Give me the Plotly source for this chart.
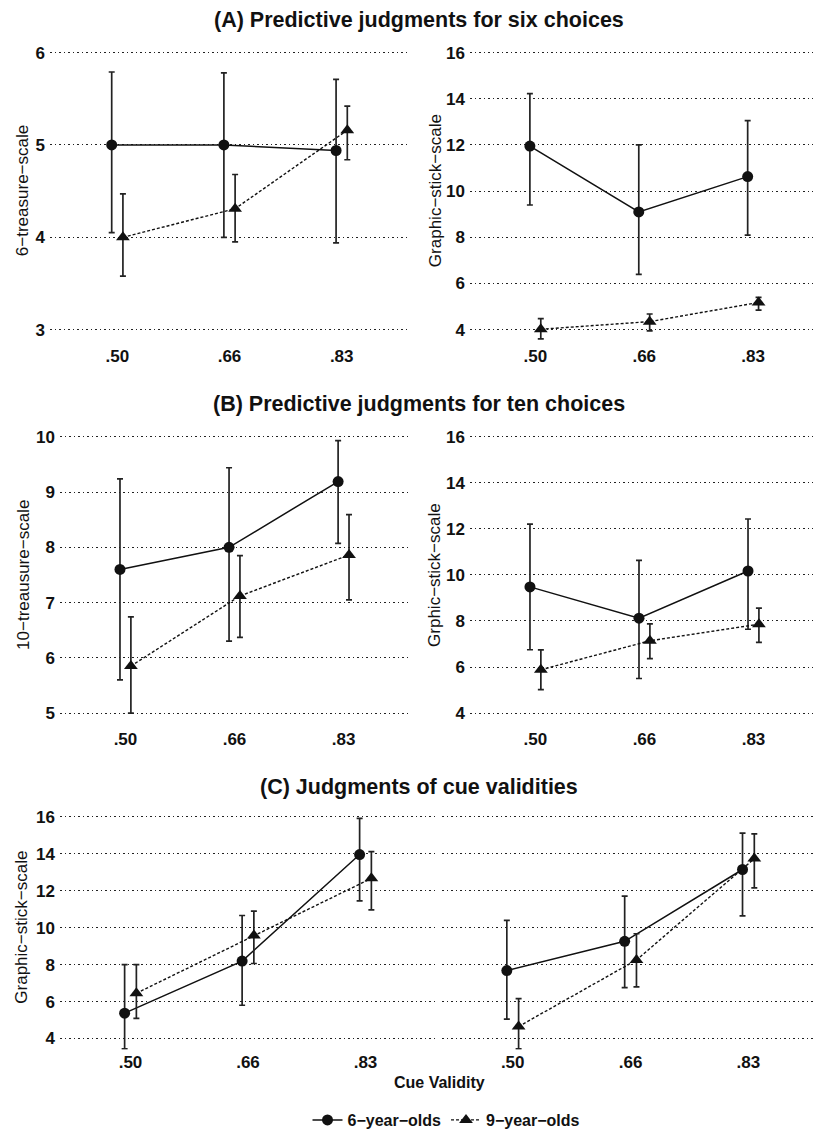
import plotly.graph_objects as go

W, H = 813, 1137
cats = [".50", ".66", ".83"]
xpos = [1, 2, 3]

# (A) six choices, 6-treasure-scale
a_tre_6_mean = [5.0, 5.0, 4.94]
a_tre_6_lo = [4.05, 4.0, 3.94]
a_tre_6_hi = [5.79, 5.78, 5.71]
a_tre_9_mean = [4.0, 4.31, 5.16]
a_tre_9_lo = [3.58, 3.95, 4.84]
a_tre_9_hi = [4.47, 4.68, 5.42]
# (A) six choices, graphic-stick-scale
a_stk_6_mean = [11.95, 9.1, 10.63]
a_stk_6_lo = [9.4, 6.4, 8.1]
a_stk_6_hi = [14.22, 12.0, 13.05]
a_stk_9_mean = [4.02, 4.35, 5.18]
a_stk_9_lo = [3.6, 3.95, 4.85]
a_stk_9_hi = [4.48, 4.68, 5.4]
# (B) ten choices, 10-treasure-scale
b_tre_6_mean = [7.6, 8.0, 9.19]
b_tre_6_lo = [5.6, 6.3, 8.07]
b_tre_6_hi = [9.24, 9.44, 9.93]
b_tre_9_mean = [5.85, 7.12, 7.86]
b_tre_9_lo = [5.0, 6.37, 7.05]
b_tre_9_hi = [6.74, 7.85, 8.59]
# (B) ten choices, graphic-stick-scale
b_stk_6_mean = [9.48, 8.12, 10.17]
b_stk_6_lo = [6.75, 5.5, 7.64]
b_stk_6_hi = [12.21, 10.63, 12.43]
b_stk_9_mean = [5.88, 7.14, 7.86]
b_stk_9_lo = [5.02, 6.36, 7.07]
b_stk_9_hi = [6.74, 7.87, 8.56]
# (C) cue validities
c_l_6_mean = [5.37, 8.19, 13.96]
c_l_6_lo = [3.44, 5.8, 11.45]
c_l_6_hi = [8.0, 10.66, 15.92]
c_l_9_mean = [6.45, 9.58, 12.67]
c_l_9_lo = [5.09, 8.06, 10.96]
c_l_9_hi = [8.0, 10.9, 14.12]
c_r_6_mean = [7.68, 9.26, 13.15]
c_r_6_lo = [5.05, 6.75, 10.64]
c_r_6_hi = [10.39, 11.71, 15.12]
c_r_9_mean = [4.65, 8.25, 13.74]
c_r_9_lo = [3.44, 6.79, 12.16]
c_r_9_hi = [6.16, 9.67, 15.08]

titles = ["(A) Predictive judgments for six choices",
          "(B) Predictive judgments for ten choices",
          "(C) Judgments of cue validities"]
series_names = ["6\u2212year\u2212olds", "9\u2212year\u2212olds"]

FONT = "Liberation Sans, Arial, Helvetica, sans-serif"

def fx(p):
    return p / W

def fy(p):
    return 1 - p / H

panels = [
    (50, 409, 39, 346, [0.4, 3.6], [2.85, 6.15], [3, 4, 5, 6], "6\u2212treasure\u2212scale",
     (a_tre_6_mean, a_tre_6_lo, a_tre_6_hi, a_tre_9_mean, a_tre_9_lo, a_tre_9_hi), 22),
    (470, 813, 39, 346, [0.4, 3.55], [3.4, 16.6], [4, 6, 8, 10, 12, 14, 16], "Graphic\u2212stick\u2212scale",
     (a_stk_6_mean, a_stk_6_lo, a_stk_6_hi, a_stk_9_mean, a_stk_9_lo, a_stk_9_hi), 435),
    (60, 409, 426, 732, [0.4, 3.6], [4.75, 10.25], [5, 6, 7, 8, 9, 10], "10\u2212treausure\u2212scale",
     (b_tre_6_mean, b_tre_6_lo, b_tre_6_hi, b_tre_9_mean, b_tre_9_lo, b_tre_9_hi), 24),
    (470, 813, 426, 732, [0.4, 3.546], [3.4, 16.6], [4, 6, 8, 10, 12, 14, 16], "Grphic\u2212stick\u2212scale",
     (b_stk_6_mean, b_stk_6_lo, b_stk_6_hi, b_stk_9_mean, b_stk_9_lo, b_stk_9_hi), 435),
    (60, 436, 811.5, 1057, [0.4, 3.6], [3.4, 16.6], [4, 6, 8, 10, 12, 14, 16], "Graphic\u2212stick\u2212scale",
     (c_l_6_mean, c_l_6_lo, c_l_6_hi, c_l_9_mean, c_l_9_lo, c_l_9_hi), 22),
    (442, 813, 811.5, 1057, [0.4, 3.548], [3.4, 16.6], [4, 6, 8, 10, 12, 14, 16], None,
     (c_r_6_mean, c_r_6_lo, c_r_6_hi, c_r_9_mean, c_r_9_lo, c_r_9_hi), None),
]

fig = go.Figure()
layout = {}
annotations = []
dodge = 0.05

for i, (x0, x1, yt, yb, xr, yr, ytv, ylab, data, ylab_x) in enumerate(panels):
    n = i + 1
    xa = "x" if n == 1 else f"x{n}"
    ya = "y" if n == 1 else f"y{n}"
    xkey = "xaxis" if n == 1 else f"xaxis{n}"
    ykey = "yaxis" if n == 1 else f"yaxis{n}"
    layout[xkey] = dict(domain=[fx(x0), fx(x1)], range=xr, anchor=ya,
                        tickvals=xpos, ticktext=cats, showgrid=False, zeroline=False,
                        showline=False, ticks="", fixedrange=True,
                        tickfont=dict(family=FONT, size=17, color="#111", weight="bold"))
    layout[ykey] = dict(domain=[fy(yb), fy(yt)], range=yr, anchor=xa,
                        tickvals=ytv, ticktext=[str(v) for v in ytv],
                        showticklabels=(i != 5), ticklabelstandoff=4,
                        showgrid=True, gridcolor="#222", gridwidth=1.2, griddash="1.5px,3px",
                        zeroline=False, showline=False, ticks="",
                        tickfont=dict(family=FONT, size=17, color="#111", weight="bold"))
    m6, lo6, hi6, m9, lo9, hi9 = data
    fig.add_trace(go.Scatter(
        x=[p - dodge for p in xpos], y=m6, xaxis=xa, yaxis=ya,
        mode="lines+markers", name=series_names[0], legendgroup="g6", showlegend=(i == 0),
        line=dict(color="#111", width=1.5),
        marker=dict(symbol="circle", size=11, color="#111"),
        error_y=dict(type="data", symmetric=False,
                     array=[h - m for h, m in zip(hi6, m6)],
                     arrayminus=[m - l for l, m in zip(lo6, m6)],
                     color="#222", thickness=1.7, width=3)))
    fig.add_trace(go.Scatter(
        x=[p + dodge for p in xpos], y=m9, xaxis=xa, yaxis=ya,
        mode="lines+markers", name=series_names[1], legendgroup="g9", showlegend=(i == 0),
        line=dict(color="#111", width=1.4, dash="3px,2px"),
        marker=dict(symbol="triangle-up", size=12, color="#111"),
        error_y=dict(type="data", symmetric=False,
                     array=[h - m for h, m in zip(hi9, m9)],
                     arrayminus=[m - l for l, m in zip(lo9, m9)],
                     color="#222", thickness=1.7, width=3)))
    if ylab:
        annotations.append(dict(text=ylab, x=fx(ylab_x), y=fy((yt + yb) / 2),
                                xref="paper", yref="paper", showarrow=False, textangle=-90,
                                xanchor="center", yanchor="middle",
                                font=dict(family=FONT, size=17, color="#111")))

for t, ypx in zip(titles, [20, 407, 793]):
    annotations.append(dict(text=t, x=fx(419), y=fy(ypx), xref="paper", yref="paper",
                            showarrow=False, xanchor="center", yanchor="middle",
                            font=dict(family=FONT, size=21.5, color="#111", weight="bold")))

annotations.append(dict(text="Cue Validity", x=fx(439), y=fy(1090), xref="paper", yref="paper",
                        showarrow=False, xanchor="center", yanchor="middle",
                        font=dict(family=FONT, size=16, color="#111", weight="bold")))

fig.update_layout(
    width=W, height=H,
    margin=dict(l=0, r=0, t=0, b=0),
    paper_bgcolor="white", plot_bgcolor="white",
    annotations=annotations,
    showlegend=True,
    legend=dict(orientation="h", x=fx(446), xanchor="center", y=fy(1128), yanchor="middle",
                font=dict(family=FONT, size=16, color="#111", weight="bold"),
                itemwidth=30, tracegroupgap=0, bgcolor="rgba(0,0,0,0)"),
    **layout,
)

fig.write_html("out.html")
